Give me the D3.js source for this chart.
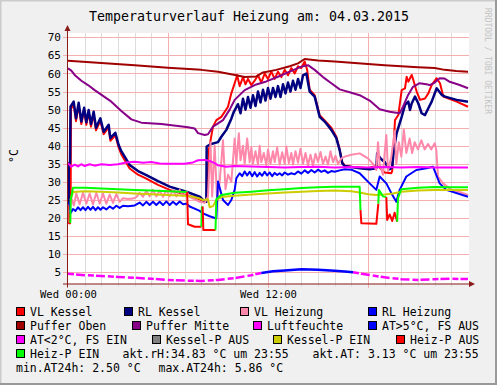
<!DOCTYPE html>
<html>
<head>
<meta charset="utf-8">
<script src="https://cdn.jsdelivr.net/npm/d3@7"></script>
<style>
body { margin: 0; background: #f0f0f0; }
svg { display: block; }
text { font-family: "DejaVu Sans Mono", monospace; }
</style>
</head>
<body>
<svg id="chart" width="497" height="385"></svg>
<script>
// values: [hour of day, °C]
const vlKessel = [[0,32.3],[0.06,33.5],[0.08,18.6],[0.12,18.6],[0.13,25],[0.16,25],[0.18,50.2],[0.34,51.5],[0.48,46.8],[0.64,51.2],[0.8,46],[0.97,49.8],[1.1,45.8],[1.24,49.2],[1.38,45.3],[1.54,48.7],[1.68,44.3],[1.94,46.9],[2.14,43.2],[2.44,45.1],[2.54,41.4],[2.84,42.9],[3.04,39.5],[3.2,37.6],[3.7,33.7],[4.2,32],[4.7,30.9],[5.4,29.2],[6.1,27.8],[7.1,26.4],[7.9,25.2],[8.1,24.8],[8.35,25],[8.45,38.8],[8.7,45.3],[8.9,47.1],[9.2,48],[9.6,50.8],[9.8,54.5],[10.0,57.3],[10.15,59.5],[10.3,56.5],[10.5,59],[10.65,57],[10.8,58.5],[11.0,56.8],[11.2,58],[11.4,59.5],[11.6,57.5],[11.8,60],[12.0,58.5],[12.2,60.5],[12.4,58.5],[12.6,60.5],[12.8,59],[13.0,61],[13.2,59.5],[13.4,61.5],[13.6,60],[13.8,62],[14.0,61.5],[14.2,63.3],[14.35,61],[14.5,55.5],[14.8,54],[15.1,48.5],[15.4,47],[15.8,45],[16.1,42.5],[16.3,39],[16.45,35.5],[16.6,34.5],[17.0,34.2],[17.5,34.0],[18.0,33.8],[18.5,34.5],[18.7,34.0],[19.0,32.6],[19.4,32.4],[19.45,33],[19.62,47.1],[19.82,48.5],[20.02,55.4],[20.22,55.9],[20.32,59.1],[20.42,57.7],[20.62,59.6],[20.72,58.2],[20.92,55],[21.12,52.7],[21.42,53.1],[21.62,54.5],[21.82,56.8],[22.12,58.7],[22.32,57.3],[22.52,53.6],[23.32,52.2],[24,50.8]];

const rlKessel = [[0,24.2],[0.04,24.2],[0.05,35.2],[0.12,35.2],[0.15,50.8],[0.34,52.2],[0.48,47.6],[0.64,51.9],[0.8,46.7],[0.97,50.5],[1.1,46.5],[1.24,49.9],[1.38,46.0],[1.54,49.4],[1.68,45.0],[1.94,47.6],[2.14,43.9],[2.44,45.8],[2.54,42.1],[2.84,43.6],[3.04,40.2],[3.2,38.5],[3.7,34.7],[4.2,33.0],[4.7,31.9],[5.4,30.2],[6.1,28.7],[7.1,27.3],[7.9,25.9],[8.1,25.0],[8.3,24.5],[8.32,39.8],[8.6,40.5],[9.0,41.0],[9.2,42.5],[9.5,44.4],[9.8,47.5],[9.95,49.4],[10.2,51.5],[10.35,49],[10.5,53],[10.65,50],[10.8,53.5],[10.95,50.5],[11.1,54],[11.25,51],[11.4,55],[11.55,52],[11.7,55.5],[11.85,52.5],[12.0,56],[12.15,53],[12.3,56],[12.45,53.5],[12.6,56.5],[12.75,53.5],[12.9,57],[13.05,54.5],[13.2,57.5],[13.35,55],[13.5,58],[13.65,55.5],[13.8,58.5],[13.95,56],[14.1,59.5],[14.3,60],[14.5,55],[14.8,53.6],[15.1,48.0],[15.4,46.7],[15.8,44.4],[16.1,42.1],[16.3,38.8],[16.45,35.2],[16.6,34.4],[16.9,34.2],[17.5,33.8],[18.1,33.5],[18.5,33.8],[18.55,37.9],[18.75,36.5],[19.0,35.5],[19.3,33.5],[19.45,34],[19.55,38.8],[19.72,43.5],[20.02,48],[20.22,51.3],[20.42,52.2],[20.52,49.9],[20.62,51.7],[20.82,53.6],[21.02,51.7],[21.22,49],[21.42,48.5],[21.62,50.4],[21.82,52.2],[22.12,55.9],[22.42,54.1],[22.62,53.6],[23.32,52.7],[24,52.2]];

const vlHeizung = [[0.1,21.5],[0.2,25.5],[0.35,23.5],[0.5,26.8],[0.7,23.8],[0.9,27],[1.1,24],[1.3,26.8],[1.5,23.8],[1.7,27],[1.9,24],[2.1,26.8],[2.3,24],[2.5,26.5],[2.7,24.2],[2.9,26.6],[3.1,24.5],[3.3,25.5],[3.6,25.3],[3.9,25.4],[4.1,25.8],[4.3,27.0],[4.5,25.9],[4.7,27.6],[4.9,26.0],[5.1,27.8],[5.3,26.0],[5.5,27.6],[5.7,25.9],[5.9,27.8],[6.1,26.0],[6.3,27.7],[6.5,26.0],[6.7,27.8],[6.9,26.1],[7.1,27.4],[7.3,25.9],[7.6,25.2],[7.9,24.5],[8.2,24.2],[8.4,26],[8.55,41],[8.65,26],[8.8,40],[8.95,24.5],[9.1,30],[9.3,41.5],[9.45,28],[9.6,32],[9.8,30],[10.0,42],[10.1,35],[10.25,43.5],[10.35,36],[10.5,40],[10.6,35],[10.75,42],[10.9,35.5],[11.0,39.5],[11.1,35],[11.25,38.5],[11.4,34.8],[11.5,40],[11.6,35.5],[11.75,38],[11.9,34.6],[12.0,39],[12.15,35],[12.3,38.5],[12.4,35.5],[12.55,39.5],[12.7,34.8],[12.85,38.2],[13.0,35],[13.1,39.8],[13.25,35.2],[13.4,38],[13.5,34.8],[13.65,38.5],[13.8,35.3],[13.95,39.2],[14.1,35],[14.25,38],[14.4,34.6],[14.55,37.5],[14.7,34.5],[14.85,37.8],[15.0,35.5],[15.15,38.3],[15.3,35],[15.45,37],[15.6,34.8],[15.75,38.5],[15.9,35.5],[16.05,37.2],[16.2,35],[16.4,36.5],[16.6,37],[17.0,37.5],[17.5,37.9],[18.0,36.5],[18.3,35],[18.5,33.3],[18.6,41],[18.7,35],[18.9,32],[19.0,38],[19.1,43],[19.2,33],[19.4,37],[19.6,44],[19.7,35],[19.85,41],[20.0,37],[20.15,44.5],[20.3,38],[20.5,42],[20.65,38],[20.8,41],[21.0,39],[21.2,41.5],[21.4,39],[21.6,40.5],[21.8,39],[22.0,40.7],[22.1,38.8],[22.2,31.5],[22.5,29.6],[23.0,27.8],[23.5,27.2],[24,26.4]];

const rlHeizung = [[0,24.1],[0.1,24],[0.15,21.3],[0.3,22.5],[0.45,22.0],[0.6,23.0],[0.75,22.2],[0.9,23.0],[1.05,22.2],[1.2,23.1],[1.35,22.3],[1.5,23.1],[1.65,22.2],[1.8,23],[1.95,22.3],[2.1,23],[2.3,22.4],[2.5,23.2],[2.7,22.6],[2.9,23.4],[3.1,22.8],[3.3,23.4],[3.6,23.3],[4.0,23.5],[4.3,24.3],[4.5,23.5],[4.7,24.5],[4.9,23.6],[5.1,24.5],[5.3,23.6],[5.5,24.5],[5.7,23.6],[5.9,24.6],[6.1,23.6],[6.3,24.5],[6.5,23.7],[6.7,24.6],[6.9,23.8],[7.1,24],[7.3,23.2],[7.6,22.6],[7.9,22.0],[8.1,21.3],[8.5,20.5],[8.9,19.9],[9.0,30.1],[9.3,25],[9.6,23.6],[9.8,25],[10.0,27.8],[10.1,31],[10.3,32.4],[10.45,31.6],[10.6,32.9],[10.75,31.8],[10.9,32.8],[11.05,31.6],[11.2,32.7],[11.35,31.5],[11.5,32.5],[11.65,31.7],[11.8,32.8],[11.95,31.8],[12.1,32.6],[12.25,31.6],[12.4,32.5],[12.55,31.9],[12.7,32.4],[12.85,31.8],[13.0,32.6],[13.2,32.0],[13.4,32.4],[13.6,32.1],[13.8,32.9],[14.0,32.3],[14.2,33.2],[14.4,32.5],[14.6,33.3],[14.8,32.6],[15.0,33.4],[15.2,32.8],[15.4,33.2],[15.6,32.5],[15.8,33.0],[16.0,32.8],[16.3,33.2],[16.6,33.5],[17.0,33.4],[17.5,32.4],[18.1,29.6],[18.5,27.8],[18.7,31.5],[19.1,29.6],[19.4,26.9],[19.7,24.5],[19.9,27.8],[20.3,31.5],[20.9,33.3],[21.5,33.8],[21.9,34.2],[22.3,29.6],[22.7,27.8],[24,25.9]];

const pufferOben = [[0,63.5],[2,62.9],[4,62.3],[6,61.6],[8,61.0],[9,60.5],[10.1,59.5],[10.6,59.0],[11.3,59.2],[11.7,60.3],[12.5,61.0],[13.3,62.0],[13.8,62.8],[14.2,64.0],[15,63.6],[16,63.3],[17,63.0],[18,62.6],[19,62.3],[20,62.0],[21,61.7],[22,61.5],[22.6,61.0],[23.3,60.7],[24,60.5]];

const pufferMitte = [[0,61.4],[0.2,60.8],[0.4,59.6],[0.8,58.0],[1.2,56.8],[1.6,55.4],[2.1,53.8],[2.6,52.2],[3.2,49.6],[3.8,47.3],[4.4,46.4],[5.6,46.0],[6.6,45.5],[7.2,45.1],[7.6,44.8],[7.8,43.5],[8.2,43.0],[8.4,43.2],[8.7,45.3],[9.3,47.1],[9.7,50.0],[10.0,52.7],[10.6,55.4],[11.2,56.8],[11.9,57.8],[12.6,59.1],[13.3,60.5],[14.0,61.9],[14.4,62.3],[14.8,61.0],[15.3,59.0],[15.8,57.3],[16.3,55.6],[16.9,54.8],[17.5,54.0],[18.1,52.5],[18.7,50.1],[19.3,49.4],[19.9,49.0],[20.1,50.8],[20.4,54],[20.7,56.3],[21.1,57.3],[21.5,57.0],[21.7,56.8],[22.0,57.5],[22.3,58.7],[22.6,58.6],[22.9,57.7],[23.5,56.8],[24,55.9]];

const luftfeuchte = [[0,35.2],[0.2,34.2],[0.4,34.8],[0.6,34.3],[0.8,34.9],[1.0,34.4],[1.3,34.9],[1.6,34.5],[2.0,34.9],[2.5,34.7],[3.0,34.9],[3.5,35.4],[4.0,35.6],[4.5,35.3],[5.0,35.5],[5.5,35.1],[6.0,35.0],[7.0,35.0],[7.5,35.4],[7.8,36.0],[8.2,36.1],[8.5,35.8],[8.8,35.2],[9.0,34.6],[9.5,34.2],[10,34.4],[11,34.3],[12,34.1],[13,34.0],[14,34.1],[15,34.2],[16,34.0],[17,34.1],[18,34.0],[19,34.1],[20,34.0],[21,34.1],[22,34.0],[23,34.0],[24,34.0]];

const aussen = [[0,4.6],[1,4.2],[2,4.0],[3,3.7],[4,3.5],[5,3.2],[6,2.9],[7,2.7],[8,2.6],[9,2.9],[10,3.4],[11,4.2],[11.6,4.8],[12.3,5.3],[13,5.5],[14,5.86],[15,5.7],[16,5.4],[16.6,5.2],[17.1,5.0],[17.6,4.6],[18,4.3],[19,3.6],[20,3.1],[21,2.9],[22,3.1],[23,3.2],[24,3.13]];

const kesselP = [[0.15,25],[0.3,27.2],[1,27.4],[2,27.3],[3,27.1],[4,26.8],[5,26.6],[6,26.4],[7,26.2],[7.5,25.9],[7.9,25.4],[8.1,25.0],[8.4,25.2],[8.5,23.0],[8.7,23.3],[8.9,25.0],[9.2,25.8],[10,26.2],[11,26.5],[12,26.8],[13,27.1],[14,27.3],[15,27.5],[16,27.6],[17,27.4],[17.5,27.1],[18,26.6],[18.5,26.4],[19,26.5],[19.5,26.8],[20,27.3],[21,27.6],[22,27.8],[23,27.8],[24,27.8]];

// [hour, value, pump on]
const heizP = [[0.02,18.6,0],[0.14,18.6,0],[0.16,25.0,1],[0.3,28.4,1],[1,28.4,1],[2,28.2,1],[3,28.0,1],[4,27.8,1],[5,27.6,1],[6,27.4,1],[7.15,27.2,1],[7.2,18.3,0],[7.6,17.6,0],[8.0,17.6,0],[8.03,23.0,1],[8.08,23.2,1],[8.12,16.7,0],[8.85,16.7,0],[8.9,25.2,1],[9.2,26.4,1],[10,27.0,1],[11,27.3,1],[12,27.7,1],[13,28.0,1],[14,28.3,1],[15,28.5,1],[16,28.7,1],[17.5,28.7,1],[17.55,22.2,1],[17.6,18.6,0],[18.5,18.4,0],[18.62,24.0,0],[18.65,27.8,1],[18.9,26.0,1],[19.1,25.8,1],[19.15,19.5,0],[19.3,21.0,0],[19.45,19.2,0],[19.6,21.5,0],[19.75,19.0,0],[19.8,25.5,1],[20.0,28.0,1],[21,28.4,1],[22,28.6,1],[23,28.5,1],[24,28.5,1]];

const yTicks = [5,10,15,20,25,30,35,40,45,50,55,60,65,70];
const timeLabels = [[0,'Wed 00:00'],[12,'Wed 12:00']];
const majorHours = [6,12,18];

const legendRows = [
  [['VL Kessel','#ff0000',16],['RL Kessel','#000080',124],['VL Heizung','#ff88aa',240],['RL Heizung','#0000ff',368]],
  [['Puffer Oben','#a00000',16],['Puffer Mitte','#880088',132],['Luftfeuchte','#ff00ff',253],['AT>5°C, FS AUS','#0000ff',368]],
  [['AT<2°C, FS EIN','#ff00ff',16],['Kessel-P AUS','#808080',152],['Kessel-P EIN','#cccc00',273],['Heiz-P AUS','#ff0000',396]],
  [['Heiz-P EIN','#00ff00',16]]
];
const statTexts = [['akt.rH:34.83 °C um 23:55',122.5,4],['akt.AT: 3.13 °C um 23:55',312.5,4],['min.AT24h: 2.50 °C',16,5],['max.AT24h: 5.86 °C',158.5,5]];

const svg = d3.select('#chart');
const W = 497, H = 385;
const x = d3.scaleLinear().domain([0, 24]).range([68, 468]);
const y = d3.scaleLinear().domain([1.9, 71.2]).range([283.5, 33]);

// frame
svg.append('rect').attr('width', W).attr('height', H).attr('fill', '#f0f0f0');
svg.append('path').attr('d', `M0.5,${H}V0.5H${W}`).attr('stroke', '#cbcbcb').attr('stroke-width', 2).attr('fill', 'none');
svg.append('path').attr('d', `M${W-1},0V${H-1}H0`).attr('stroke', '#999999').attr('stroke-width', 2).attr('fill', 'none');

svg.append('rect').attr('x', x(0)).attr('y', y.range()[1])
  .attr('width', x(24) - x(0) + 1).attr('height', y.range()[0] - y.range()[1])
  .attr('fill', '#ffffff');

// grid
const grid = svg.append('g').attr('shape-rendering', 'crispEdges');
grid.selectAll('.vmin').data(d3.range(1, 24).filter(h => !majorHours.includes(h))).enter()
  .append('line')
  .attr('x1', d => x(d) + 0.5).attr('x2', d => x(d) + 0.5)
  .attr('y1', y.range()[1]).attr('y2', y.range()[0] + 3)
  .attr('stroke', '#dcdcdc');
grid.selectAll('.vmaj').data(majorHours).enter()
  .append('line')
  .attr('x1', d => x(d) + 0.5).attr('x2', d => x(d) + 0.5)
  .attr('y1', y.range()[1]).attr('y2', y.range()[0] + 4)
  .attr('stroke', '#f4b0b0');
grid.selectAll('.h').data(yTicks).enter()
  .append('line')
  .attr('x1', x(0) - 5).attr('x2', x(24) + 1)
  .attr('y1', d => Math.round(y(d)) + 0.5).attr('y2', d => Math.round(y(d)) + 0.5)
  .attr('stroke', '#f4b0b0');

// series
const line = d3.line().x(d => x(d[0])).y(d => y(d[1]));
const plot = svg.append('g').attr('fill', 'none').attr('stroke-linejoin', 'round');

function segmentRuns(data, colorOf) {
  const runs = [];
  for (let i = 1; i < data.length; i++) {
    const c = colorOf(data[i - 1], data[i]);
    const last = runs[runs.length - 1];
    if (last && last.color === c) last.pts.push(data[i]);
    else runs.push({ color: c, pts: [data[i - 1], data[i]] });
  }
  return runs;
}

plot.append('path').datum(vlKessel).attr('d', line).attr('stroke', '#ff0000').attr('stroke-width', 2);
plot.append('path').datum(rlKessel).attr('d', line).attr('stroke', '#000080').attr('stroke-width', 2.5);
plot.append('path').datum(vlHeizung).attr('d', line).attr('stroke', '#ff88aa').attr('stroke-width', 2);
plot.append('path').datum(rlHeizung).attr('d', line).attr('stroke', '#0000ff').attr('stroke-width', 2);
plot.append('path').datum(pufferOben).attr('d', line).attr('stroke', '#a00000').attr('stroke-width', 2);
plot.append('path').datum(pufferMitte).attr('d', line).attr('stroke', '#880088').attr('stroke-width', 2);
plot.append('path').datum(luftfeuchte).attr('d', line).attr('stroke', '#ff00ff').attr('stroke-width', 2);

plot.selectAll('.at').data(segmentRuns(aussen, (a, b) => (a[1] + b[1]) / 2 >= 4.95 ? '#0000ff' : '#ff00ff'))
  .enter().append('path')
  .attr('d', d => line(d.pts)).attr('stroke', d => d.color).attr('stroke-width', 2.5)
  .attr('stroke-dasharray', d => d.color === '#ff00ff' ? '6,2,9,3' : null);

plot.append('path').datum(kesselP).attr('d', line).attr('stroke', '#cccc00').attr('stroke-width', 2);

plot.selectAll('.hp').data(segmentRuns(heizP, (a, b) => b[2] ? '#00ff00' : '#ff0000'))
  .enter().append('path')
  .attr('d', d => line(d.pts)).attr('stroke', d => d.color).attr('stroke-width', 2);

// axes
const axisColor = '#8b1a1a';
svg.append('line').attr('x1', x(0) - 0.5).attr('x2', x(0) - 0.5).attr('y1', y.range()[0] + 4).attr('y2', 29)
  .attr('stroke', axisColor).attr('stroke-width', 1);
svg.append('path').attr('d', `M${x(0) - 3.5},${31}L${x(0) - 0.5},${25}L${x(0) + 2.5},${31}Z`).attr('fill', axisColor);
svg.append('line').attr('x1', x(0) - 5).attr('x2', x(24) + 3).attr('y1', y.range()[0] + 0.5).attr('y2', y.range()[0] + 0.5)
  .attr('stroke', axisColor).attr('stroke-width', 1);
svg.append('path').attr('d', `M${x(24) + 1},${y.range()[0] - 2.5}L${x(24) + 7},${y.range()[0] + 0.5}L${x(24) + 1},${y.range()[0] + 3.5}Z`).attr('fill', axisColor);

const yAxis = d3.axisLeft(y).tickValues(yTicks).tickSize(0).tickPadding(6);
svg.append('g').attr('transform', `translate(${x(0) - 1},0)`).call(yAxis)
  .call(g => g.select('.domain').remove())
  .call(g => g.selectAll('text').attr('font-family', '"DejaVu Sans Mono", monospace').attr('font-size', 11).attr('fill', '#000'));

const xAxis = d3.axisBottom(x).tickValues(timeLabels.map(d => d[0]))
  .tickFormat(v => timeLabels.find(d => d[0] === v)[1]).tickSize(0).tickPadding(7);
svg.append('g').attr('transform', `translate(0,${y.range()[0]})`).call(xAxis)
  .call(g => g.select('.domain').remove())
  .call(g => g.selectAll('text').attr('font-family', '"DejaVu Sans Mono", monospace').attr('font-size', 10.5).attr('fill', '#000'));

// title, unit, watermark
svg.append('text').attr('x', 249).attr('y', 21).attr('text-anchor', 'middle')
  .attr('font-size', 13.3).attr('fill', '#000').text('Temperaturverlauf Heizung am: 04.03.2015');
svg.append('text').attr('transform', 'translate(18,156) rotate(-90)').attr('text-anchor', 'middle')
  .attr('font-size', 11.5).attr('fill', '#000').text('°C');
svg.append('text').attr('transform', 'translate(485,8) rotate(90)').attr('font-size', 8)
  .attr('fill', '#c4c4c4').text('RRDTOOL / TOBI OETIKER');

// legend
const legY0 = 307, legStep = 14;
legendRows.forEach((row, r) => {
  row.forEach(([label, color, lx]) => {
    svg.append('rect').attr('x', lx + 0.5).attr('y', legY0 + r * legStep + 0.5).attr('width', 8).attr('height', 8)
      .attr('fill', color).attr('stroke', '#000').attr('stroke-width', 1);
    svg.append('text').attr('x', lx + 14).attr('y', legY0 + r * legStep + 8.5)
      .attr('font-size', 11.5).attr('fill', '#000').text(label);
  });
});
statTexts.forEach(([t, tx, row]) => {
  svg.append('text').attr('x', tx).attr('y', legY0 + (row - 1) * legStep + 8.5)
    .attr('font-size', 11.5).attr('fill', '#000').text(t);
});
</script>
</body>
</html>
